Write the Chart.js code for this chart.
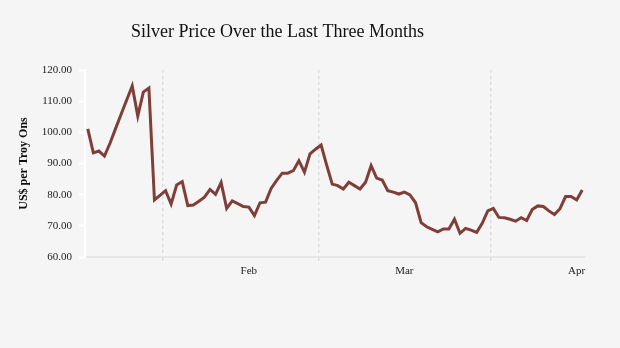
<!DOCTYPE html>
<html>
<head>
<meta charset="utf-8">
<script src="https://cdn.jsdelivr.net/npm/chart.js@4.4.0/dist/chart.umd.min.js"></script>
<style>
    body { margin: 0; background: #f5f5f5; }
    #wrap { width: 620px; height: 348px; position: relative; }
</style>
</head>
<body>
<div id="wrap"><canvas id="chart-silver"></canvas></div>
<script>
// gia bac hang ngay, bat dau tu 18/1
var giaBac = [
    101.1, 93.4, 94.0, 92.4, 96.5, 101.2, 105.8, 110.4, 114.9, 105.2,
    112.9, 114.2, 78.3, 79.8, 81.3, 77.0, 83.1, 84.2, 76.5, 76.7,
    77.9, 79.2, 81.7, 80.1, 83.9, 75.6, 78.0, 77.1, 76.2, 76.0,
    73.3, 77.4, 77.6, 82.0, 84.6, 86.9, 86.9, 87.7, 90.9, 87.2,
    93.1, 94.6, 95.9, 89.5, 83.4, 82.9, 81.8, 84.0, 82.9, 81.8,
    84.0, 89.3, 85.3, 84.7, 81.3, 80.8, 80.2, 80.8, 79.9, 77.4,
    71.0, 69.7, 68.9, 68.1, 69.0, 69.0, 72.1, 67.6, 69.2, 68.6,
    67.9, 70.8, 74.8, 75.6, 72.7, 72.6, 72.1, 71.5, 72.6, 71.7,
    75.2, 76.4, 76.2, 74.8, 73.6, 75.5, 79.4, 79.4, 78.3, 81.5
];

// vach chia thang (giua ngay cuoi thang va ngay 1)
var monthGrid = [13.5, 41.5, 72.5];
var monthLabels = ['Feb', 'Mar', 'Apr'];
var yTicks = [60, 70, 80, 90, 100, 110, 120];

var chartTitle = 'Silver Price Over the Last Three Months';
var yTitle = 'US$ per Troy Ons';

var serif = '"Liberation Serif", "Times New Roman", serif';

var points = giaBac.map((value, index) => ({ x: index, y: value }));

// ve tieu de
var titlePlugin = {
    id: 'titleText',
    afterDraw: function (chart) {
        var ctx = chart.ctx;
        ctx.save();
        ctx.font = '18px ' + serif;
        ctx.fillStyle = '#111111';
        ctx.textAlign = 'center';
        ctx.textBaseline = 'alphabetic';
        ctx.fillText(chartTitle, 277.5, 37);
        ctx.restore();
    }
};

var ctx = document.getElementById('chart-silver').getContext('2d');
var silverChart = new Chart(ctx, {
    type: 'line',
    data: {
        datasets: [{
            label: 'Silver',
            data: points,
            borderColor: '#7f3f38',
            borderWidth: 3,
            pointRadius: 0,
            tension: 0,
            fill: false
        }]
    },
    options: {
        responsive: true,
        maintainAspectRatio: false,
        animation: false,
        layout: {
            padding: { top: 70, left: 13, right: 35, bottom: 0 }
        },
        plugins: {
            legend: { display: false },
            tooltip: { enabled: false }
        },
        scales: {
            x: {
                type: 'linear',
                min: -0.5,
                max: 89.5,
                afterBuildTicks: function (scale) {
                    scale.ticks = monthGrid.map(v => ({ value: v }));
                },
                afterFit: function (scale) {
                    scale.height = 91;
                },
                ticks: {
                    callback: function (value, index) {
                        return monthLabels[index];
                    },
                    labelOffset: 86,
                    padding: 3,
                    maxRotation: 0,
                    autoSkip: false,
                    color: '#222222',
                    font: { family: serif, size: 11 }
                },
                grid: {
                    color: '#dcdcdc',
                    lineWidth: 1.5,
                    tickLength: 5,
                    tickColor: '#dcdcdc',
                    tickWidth: 1.5,
                    tickBorderDash: [3, 3]
                },
                border: {
                    color: '#e6e6e6',
                    width: 2,
                    dash: [3, 3]
                }
            },
            y: {
                min: 60,
                max: 120,
                afterBuildTicks: function (scale) {
                    scale.ticks = yTicks.map(v => ({ value: v }));
                },
                afterFit: function (scale) {
                    scale.width = 72;
                },
                ticks: {
                    callback: function (value) {
                        return Number(value).toFixed(2);
                    },
                    padding: 7,
                    color: '#222222',
                    font: { family: serif, size: 11 }
                },
                grid: {
                    drawOnChartArea: false,
                    drawTicks: true,
                    tickLength: 6,
                    tickColor: '#ffffff',
                    tickWidth: 2
                },
                border: {
                    color: '#ffffff',
                    width: 2
                },
                title: {
                    display: true,
                    text: yTitle,
                    color: '#111111',
                    font: { family: serif, size: 12, weight: 'bold' }
                }
            }
        }
    },
    plugins: [titlePlugin]
});
</script>
</body>
</html>
